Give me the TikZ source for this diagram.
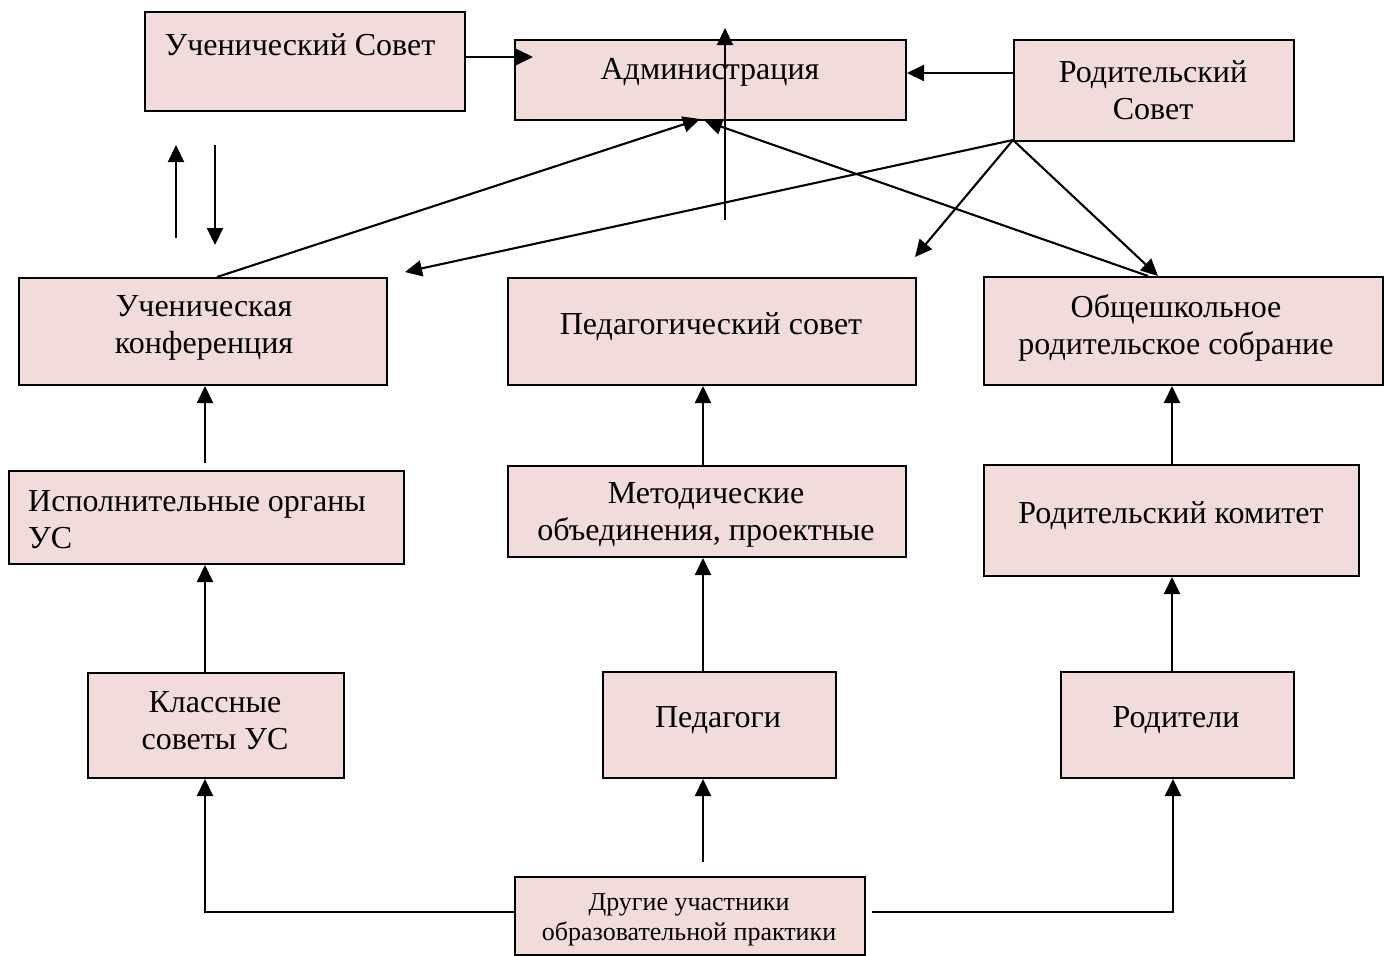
\documentclass[tikz,border=0pt]{standalone}
\usepackage{fontspec}
\setmainfont{Liberation Serif}
\usetikzlibrary{arrows.meta}
\definecolor{boxfill}{HTML}{F2DCDB}
\tikzset{
  box/.style={draw=black, fill=boxfill, line width=2pt, inner sep=0pt, anchor=north west},
  txt/.style={inner sep=0pt, align=center, font=\fontsize{32}{37}\selectfont},
  smalltxt/.style={inner sep=0pt, align=center, font=\fontsize{26}{30}\selectfont},
  arr/.style={line width=2.1pt, -{Triangle[length=17pt,width=16pt]}},
  ln/.style={line width=2.1pt}
}
\begin{document}
\begin{tikzpicture}[x=1pt,y=-1pt]
\useasboundingbox (0,0) rectangle (1385,956);
% boxes
\node[box, minimum width=320, minimum height=99] (us) at (144,11) {};
\node[box, minimum width=391, minimum height=80] (adm) at (514,39) {};
\node[box, minimum width=280, minimum height=101] (rs) at (1013,39) {};
\node[box, minimum width=368, minimum height=107] (uk) at (18,277) {};
\node[box, minimum width=408, minimum height=107] (ps) at (507,277) {};
\node[box, minimum width=399, minimum height=108] (or) at (983,276) {};
\node[box, minimum width=395, minimum height=93] (io) at (8,470) {};
\node[box, minimum width=398, minimum height=91] (mo) at (507,465) {};
\node[box, minimum width=375, minimum height=111] (rk) at (983,464) {};
\node[box, minimum width=256, minimum height=105] (ks) at (87,672) {};
\node[box, minimum width=233, minimum height=106] (pg) at (602,671) {};
\node[box, minimum width=233, minimum height=106] (rd) at (1060,671) {};
\node[box, minimum width=350, minimum height=78] (du) at (514,876) {};
% texts
\node[txt] (usT) at (300,45) {Ученический Совет};
\node[txt] (admT) at (710,72) {Администрация};
\node[txt] (rsT) at (1153,90) {Родительский\\Совет};
\node[txt] (ukT) at (204,328) {Ученическая\\конференция};
\node[txt] (psT) at (711,327) {Педагогический совет};
\node[txt] (orT) at (1176,328) {Общешкольное\\родительское собрание};
\node[txt, align=left, anchor=west] (ioT) at (28,520) {Исполнительные органы\\УС};
\node[txt] (moT) at (706,515) {Методические\\объединения, проектные};
\node[txt] (rkT) at (1171,516) {Родительский комитет};
\node[txt] (ksT) at (215,721) {Классные\\советы УС};
\node[txt] (pgT) at (718,720) {Педагоги};
\node[txt] (rdT) at (1176,720) {Родители};
\node[smalltxt] (duT) at (689,920) {Другие участники\\образовательной практики};
% free ends
\coordinate (a1) at (533,57);
\coordinate (v0) at (725,220);
\coordinate (v1) at (725,28);
\coordinate (l0) at (176,238);
\coordinate (l1) at (176,145);
\coordinate (d0) at (215,145);
\coordinate (d1) at (215,245);
\coordinate (t1) at (700,119);
\coordinate (t2) at (705,121);
\coordinate (ukTop) at (217,277);
\coordinate (orTop) at (1148,276);
\coordinate (rsC) at (1013,140);
\coordinate (f1) at (405,272);
\coordinate (f2) at (915,257);
\coordinate (f3) at (1158,276);
\coordinate (u0) at (205,463);
\coordinate (m0) at (703,862);
\coordinate (bl) at (205,912);
\coordinate (br) at (1173,912);
% connectors
\draw[arr] (us.east |- a1) -- (a1);
\draw[arr] (rs.west |- 0,73) -- (adm.east |- 0,73);
\draw[arr] (v0) -- (v1);
\draw[arr] (l0) -- (l1);
\draw[arr] (d0) -- (d1);
\draw[arr] (ukTop) -- (t1);
\draw[arr] (orTop) -- (t2);
\draw[arr] (rsC) -- (f1);
\draw[arr] (rsC) -- (f2);
\draw[arr] (rsC) -- (f3);
\draw[arr] (u0) -- (u0 |- uk.south);
\draw[arr] (ks.north -| u0) -- (io.south -| u0);
\draw[arr] (du.west |- bl) -- (bl) -- (bl |- ks.south);
\draw[arr] ([xshift=6pt]du.east |- br) -- (br) -- (br |- rd.south);
\draw[arr] (m0) -- (m0 |- pg.south);
\draw[arr] (pg.north -| m0) -- (m0 |- mo.south);
\draw[arr] (mo.north -| m0) -- (m0 |- ps.south);
\draw[arr] (rk.north -| 1172,0) -- (or.south -| 1172,0);
\draw[arr] (rd.north -| 1172,0) -- (rk.south -| 1172,0);
\end{tikzpicture}
\end{document}
